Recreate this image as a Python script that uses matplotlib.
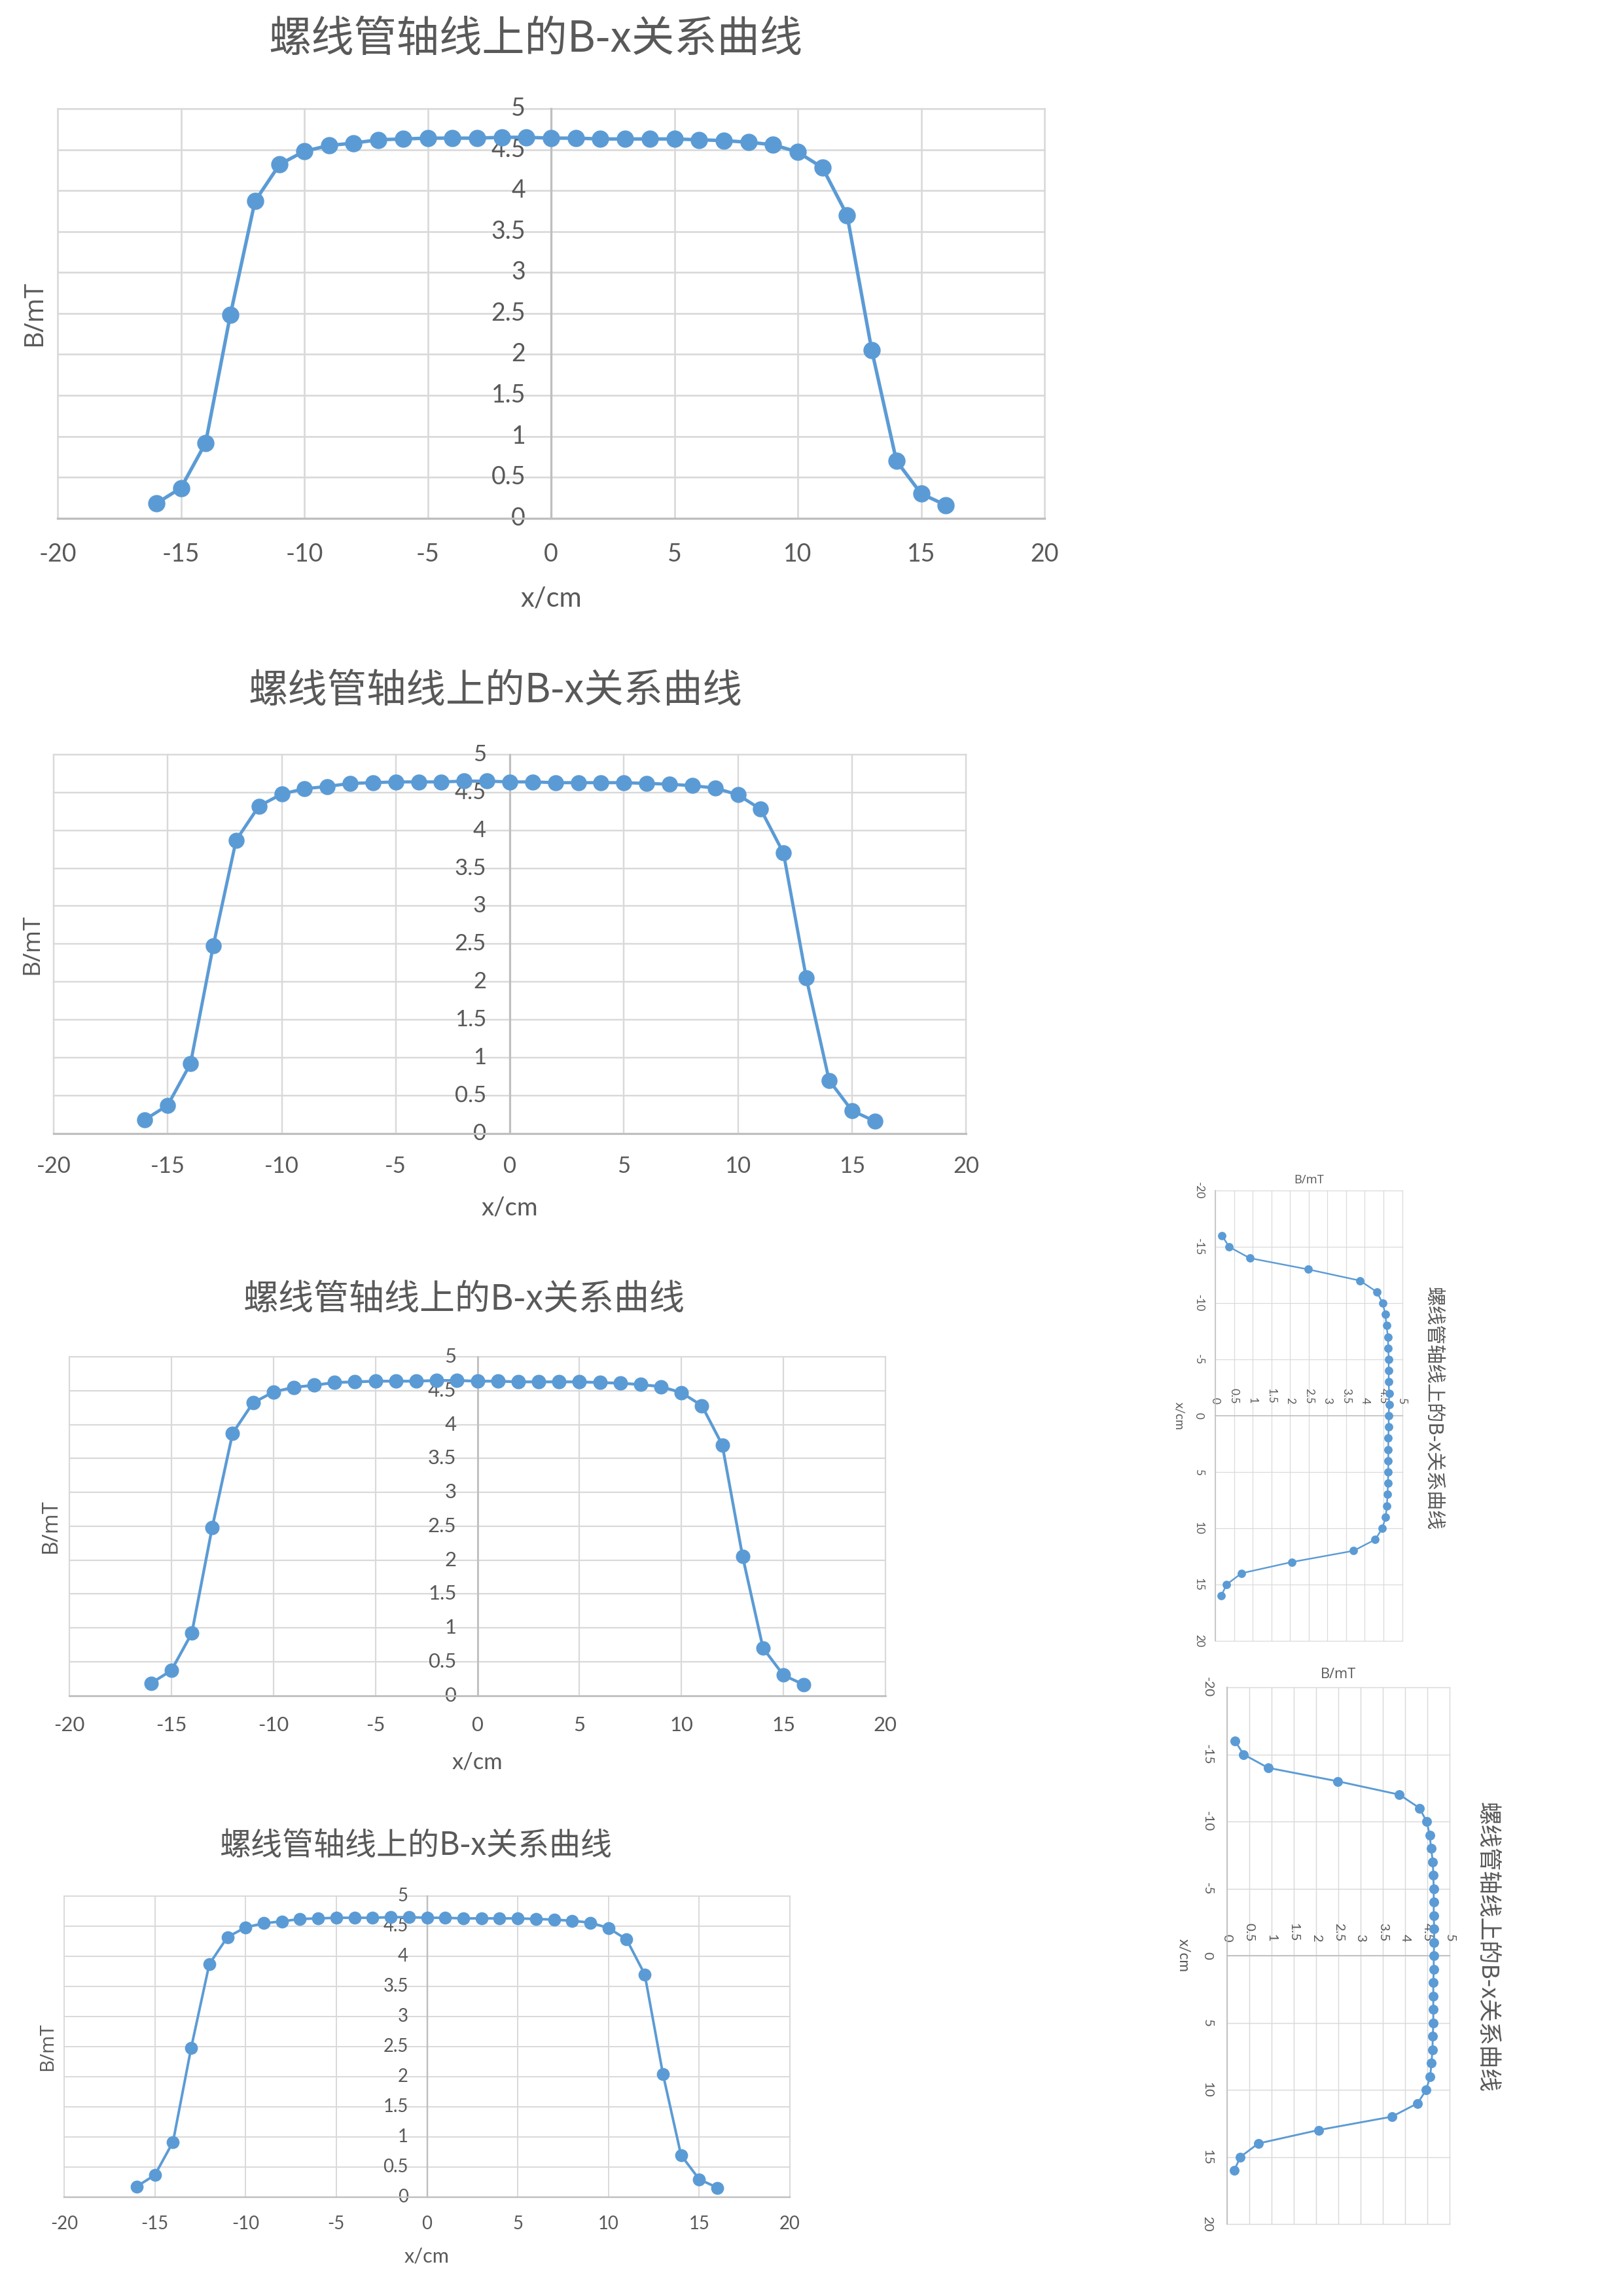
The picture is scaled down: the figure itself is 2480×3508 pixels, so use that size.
import matplotlib
matplotlib.use("Agg")
import matplotlib.pyplot as plt

# data (B along the solenoid axis)
x_cm = [-16, -15, -14, -13, -12, -11, -10, -9, -8, -7, -6, -5, -4, -3, -2, -1,
        0, 1, 2, 3, 4, 5, 6, 7, 8, 9, 10, 11, 12, 13, 14, 15, 16]
b_mt = [0.18, 0.37, 0.92, 2.48, 3.87, 4.32, 4.48, 4.55, 4.58, 4.62, 4.63, 4.64,
        4.64, 4.64, 4.65, 4.65, 4.64, 4.64, 4.63, 4.63, 4.63, 4.63, 4.62, 4.61,
        4.59, 4.56, 4.47, 4.28, 3.70, 2.05, 0.70, 0.30, 0.16]

x_ticks = [-20, -15, -10, -5, 0, 5, 10, 15, 20]
x_tick_labels = ["-20", "-15", "-10", "-5", "0", "5", "10", "15", "20"]
b_ticks = [0, 0.5, 1, 1.5, 2, 2.5, 3, 3.5, 4, 4.5, 5]
b_tick_labels = ["0", "0.5", "1", "1.5", "2", "2.5", "3", "3.5", "4", "4.5", "5"]

title_text = "螺线管轴线上的B-x关系曲线"
x_label = "x/cm"
b_label = "B/mT"

W_PX, H_PX = 2480, 3508
DPI = 100
BLUE = "#5B9BD5"
GRID = "#D9D9D9"
AXIS = "#BFBFBF"
TEXT = "#595959"
BASE_LEN = 1508.0

TITLE_FONT = ["Noto Sans CJK SC", "DejaVu Sans"]
TICK_FONT = ["Lato", "DejaVu Sans"]
BLABEL_FONT = ["Open Sans", "DejaVu Sans"]

# plot box: left px, top px, length of the x/cm axis in px, rotated page?
charts = [
    (88, 166, 1508, False),
    (82, 1153, 1394, False),
    (106, 2073, 1247, False),
    (98, 2897, 1109, False),
    (1857, 1819, 688, True),
    (1875, 2578, 820, True),
]


def ftext(fig, x, y, s, **kw):
    fig.text(x / W_PX, 1 - y / H_PX, s, ha="center", va="center", color=TEXT, **kw)


def draw_chart(fig, left, top, length, rotated):
    s = length / BASE_LEN
    short = 0.415 * length
    w, h = (short, length) if rotated else (length, short)
    ax = fig.add_axes([left / W_PX, 1 - (top + h) / H_PX, w / W_PX, h / H_PX])

    if rotated:
        ax.plot(b_mt, x_cm, color=BLUE, lw=3.8 * s, marker="o", ms=18 * s,
                mfc=BLUE, mec=BLUE, zorder=3, clip_on=False)
        ax.set_xlim(0, 5)
        ax.set_ylim(20, -20)
        ax.set_xticks(b_ticks, b_tick_labels)
        ax.set_yticks(x_ticks, x_tick_labels)
        ax.xaxis.set_ticks_position("top")
        ax.spines["top"].set_position(("data", 0))
        ax.spines["bottom"].set_visible(False)
        ax.spines["right"].set_visible(False)
        ax.spines["top"].set_color(AXIS)
        ax.spines["left"].set_color(AXIS)
        ax.tick_params(axis="x", pad=28 * s, labelrotation=-90)
        ax.tick_params(axis="y", pad=39.6 * s, labelrotation=-90)
        for t in ax.get_xticklabels():
            t.set_ha("center")
            t.set_va("bottom")
        for t in ax.get_yticklabels():
            t.set_ha("center")
            t.set_va("center")
    else:
        ax.plot(x_cm, b_mt, color=BLUE, lw=3.8 * s, marker="o", ms=18 * s,
                mfc=BLUE, mec=BLUE, zorder=3, clip_on=False)
        ax.set_xlim(-20, 20)
        ax.set_ylim(0, 5)
        ax.set_xticks(x_ticks, x_tick_labels)
        ax.set_yticks(b_ticks, b_tick_labels)
        ax.spines["left"].set_position(("data", 0))
        ax.spines["top"].set_visible(False)
        ax.spines["right"].set_visible(False)
        ax.spines["left"].set_color(AXIS)
        ax.spines["bottom"].set_color(AXIS)
        ax.tick_params(axis="x", pad=39.6 * s)
        ax.tick_params(axis="y", pad=28 * s)
        for t in ax.get_xticklabels():
            t.set_va("center")
        for t in ax.get_yticklabels():
            t.set_va("center")

    for sp in ax.spines.values():
        sp.set_linewidth(2.4 * s)
    ax.tick_params(length=0, labelsize=27 * s, labelcolor=TEXT)
    for t in ax.get_xticklabels() + ax.get_yticklabels():
        t.set_fontfamily(TICK_FONT)
    ax.grid(True, color=GRID, lw=1.9 * s)
    ax.set_axisbelow(True)
    for gl in ax.get_xgridlines() + ax.get_ygridlines():
        gl.set_clip_on(False)

    # titles and axis names, placed like the Excel chart they come from
    if rotated:
        ftext(fig, left + w + 105 * s, top + h / 2 - 24 * s, title_text,
              rotation=-90, fontsize=47 * s, family=TITLE_FONT)
        ftext(fig, left + w / 2, top - 35 * s, b_label,
              fontsize=29 * s, family=BLABEL_FONT)
        ftext(fig, left - 123 * s, top + h / 2, x_label, rotation=-90,
              fontsize=30 * s, family=TICK_FONT)
    else:
        ftext(fig, left + w / 2 - 24 * s, top - 105 * s, title_text,
              fontsize=47 * s, family=TITLE_FONT)
        ftext(fig, left - 35 * s, top + h / 2, b_label, rotation=90,
              fontsize=29 * s, family=BLABEL_FONT)
        ftext(fig, left + w / 2, top + h + 123 * s, x_label,
              fontsize=30 * s, family=TICK_FONT)
    return ax


fig = plt.figure(figsize=(W_PX / DPI, H_PX / DPI), dpi=DPI)
fig.patch.set_facecolor("white")
for left, top, length, rotated in charts:
    draw_chart(fig, left, top, length, rotated)

fig.savefig("out.png", dpi=DPI)
plt.close(fig)
